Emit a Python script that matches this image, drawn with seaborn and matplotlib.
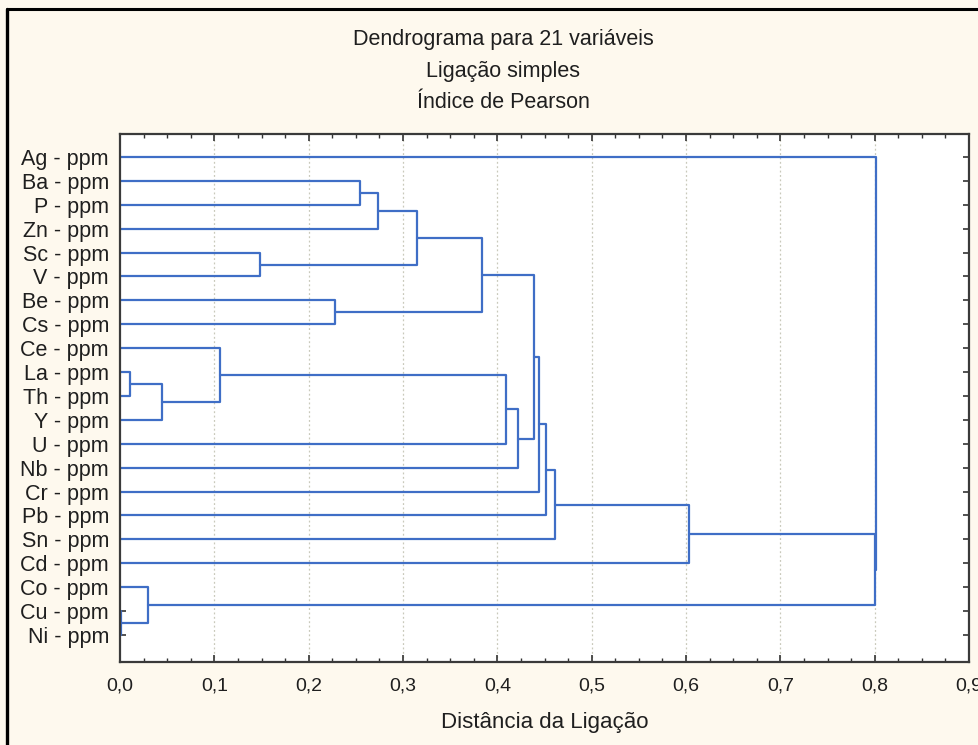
import matplotlib
matplotlib.use("Agg")
import matplotlib.pyplot as plt
from matplotlib.lines import Line2D
from matplotlib.ticker import MultipleLocator
import numpy as np
import pandas as pd
import seaborn as sns

# Variables, listed in dendrogram order (top to bottom)
leaves = ["Ag", "Ba", "P", "Zn", "Sc", "V", "Be", "Cs", "Ce", "La", "Th",
          "Y", "U", "Nb", "Cr", "Pb", "Sn", "Cd", "Co", "Cu", "Ni"]
leaf_labels = [f"{v} - ppm" for v in leaves]

# Single-linkage merges: left member, right member, linkage distance.
# Members are variable names or "c<k>" for the k-th cluster formed (1-based).
merge_left = ["La", "Cu", "Co", "c1", "Ce", "Sc", "Be", "Ba", "c8", "c9",
              "c10", "c5", "c12", "c11", "c14", "c15", "c16", "c17", "c18", "Ag"]
merge_right = ["Th", "Ni", "c2", "Y", "c4", "V", "Cs", "P", "Zn", "c6",
               "c7", "U", "Nb", "c13", "Cr", "Pb", "Sn", "Cd", "c3", "c19"]
merge_height = [0.011, 0.001, 0.030, 0.044, 0.106, 0.148, 0.228, 0.254, 0.273, 0.315,
                0.384, 0.409, 0.422, 0.439, 0.444, 0.452, 0.461, 0.603, 0.800, 0.801]

x_ticks = [0.0, 0.1, 0.2, 0.3, 0.4, 0.5, 0.6, 0.7, 0.8, 0.9]
x_tick_labels = ["0,0", "0,1", "0,2", "0,3", "0,4", "0,5", "0,6", "0,7", "0,8", "0,9"]

title_lines = ["Dendrograma para 21 variáveis", "Ligação simples", "Índice de Pearson"]
x_title = "Distância da Ligação"

# ---- build the elbow segments of the tree ----
pos = {name: (0.0, float(i)) for i, name in enumerate(leaves)}
rows = []
for k, (a, b, h) in enumerate(zip(merge_left, merge_right, merge_height), start=1):
    xa, ya = pos[a]
    xb, yb = pos[b]
    for order, (px, py) in enumerate([(xa, ya), (h, ya), (h, yb), (xb, yb)]):
        rows.append({"seg": k, "order": order, "x": px, "y": py})
    pos[f"c{k}"] = (h, (ya + yb) / 2.0)
segments = pd.DataFrame(rows)

# ---- styling ----
sns.set_theme(style="white")
plt.rcParams["font.family"] = ["Liberation Sans", "DejaVu Sans"]
bg = "#fef9ee"
line_color = "#3f6ec6"
text_color = "#1f1f1f"

fig = plt.figure(figsize=(9.79, 7.45), dpi=100, facecolor=bg)
ax = fig.add_axes([120 / 979, 1 - 662 / 745, (969 - 120) / 979, (662 - 134) / 745])
ax.set_facecolor("white")

sns.lineplot(data=segments, x="x", y="y", units="seg", estimator=None, sort=False,
             color=line_color, linewidth=1.6, ax=ax, legend=False)

ax.set_xlim(0, 0.9)
ax.set_ylim(len(leaves) - 1 + 1.13, -0.96)

ax.set_xticks(x_ticks)
ax.set_xticklabels(x_tick_labels, fontsize=14, color=text_color)
ax.xaxis.set_minor_locator(MultipleLocator(0.025))
ax.set_yticks(range(len(leaves)))
ax.set_yticklabels(leaf_labels, fontsize=15.5, color=text_color)

ax.tick_params(axis="x", which="major", direction="in", length=5, width=1.2,
               top=True, bottom=True, pad=11, colors="#333333", labelcolor=text_color)
ax.tick_params(axis="x", which="minor", direction="in", length=3, width=1,
               top=True, bottom=True, colors="#333333")
ax.tick_params(axis="y", which="major", direction="in", length=4, width=1.2,
               left=True, right=True, pad=8, colors="#333333", labelcolor=text_color)

for xv in x_ticks[1:-1]:
    ax.axvline(xv, color="#c9c9bb", linewidth=0.9, linestyle=(0, (1.5, 2)), zorder=0)

for sp in ax.spines.values():
    sp.set_visible(True)
    sp.set_color("#3a3a3a")
    sp.set_linewidth(1.6)

ax.set_xlabel(x_title, fontsize=16, color=text_color, labelpad=13)
ax.set_ylabel("")

for txt, yp in zip(title_lines, [40, 71, 102]):
    fig.text(503 / 979, 1 - yp / 745, txt, ha="center", va="center",
             fontsize=15.5, color=text_color)

# outer frame of the figure window
fig.add_artist(Line2D([7.5 / 979, 7.5 / 979], [0, 1 - 9 / 745], transform=fig.transFigure,
                      color="black", linewidth=2.4))
fig.add_artist(Line2D([7.5 / 979, 1], [1 - 9 / 745, 1 - 9 / 745], transform=fig.transFigure,
                      color="black", linewidth=2.2))

fig.savefig("out.png", dpi=100, facecolor=bg)
